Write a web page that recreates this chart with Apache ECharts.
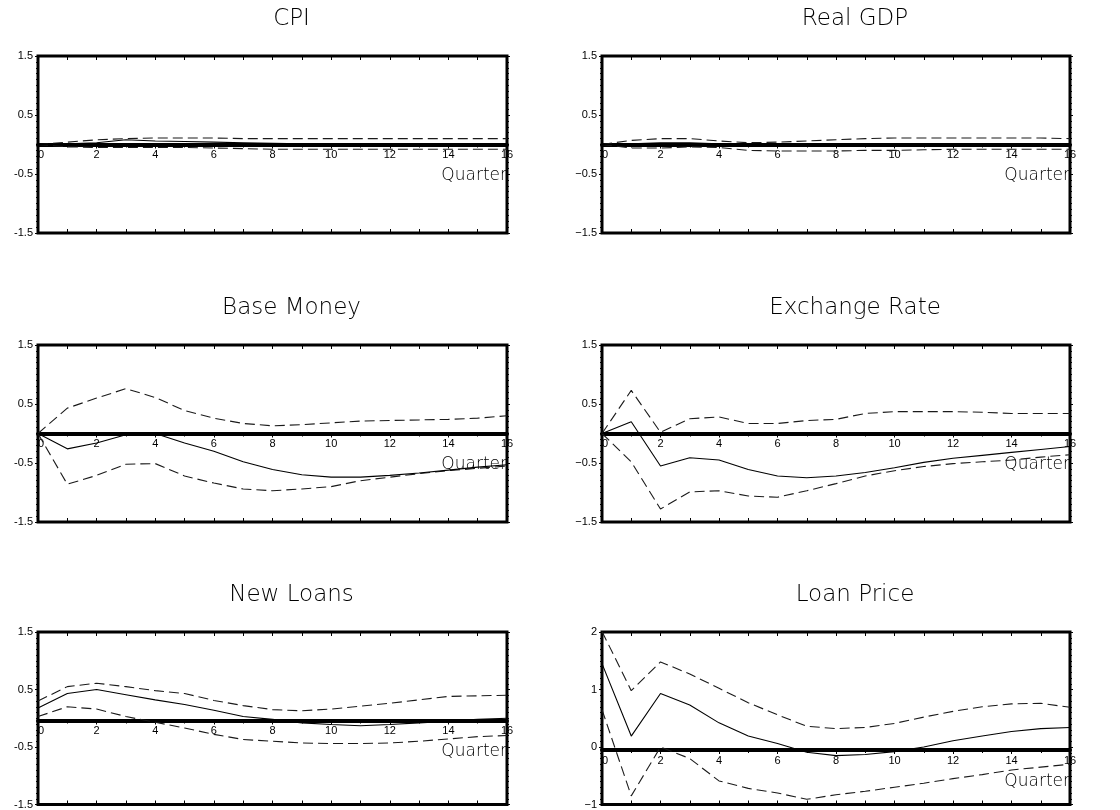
<!DOCTYPE html>
<html>
<head>
<meta charset="utf-8">
<script src="https://cdn.jsdelivr.net/npm/echarts@6/dist/echarts.min.js"></script>
<style>
  html, body { margin: 0; padding: 0; background: #fff; }
  #chart { width: 1120px; height: 810px; }
</style>
</head>
<body>
<div id="chart"></div>
<script>
// Impulse responses over 16 quarters: point estimate with upper / lower bands
const quarters = [0, 1, 2, 3, 4, 5, 6, 7, 8, 9, 10, 11, 12, 13, 14, 15, 16];

const cpiResp  = [0, 0.01, 0.03, 0.08, 0.06, 0.05, 0.04, 0.03, 0.02, 0.01, 0.01, 0.0, 0.0, 0.0, 0.0, 0.0, 0.0];
const cpiUpper = [0, 0.04, 0.08, 0.10, 0.11, 0.11, 0.11, 0.10, 0.10, 0.10, 0.10, 0.10, 0.10, 0.10, 0.10, 0.10, 0.10];
const cpiLower = [0, -0.04, -0.05, -0.05, -0.05, -0.05, -0.06, -0.07, -0.08, -0.08, -0.08, -0.08, -0.08, -0.08, -0.08, -0.08, -0.08];

const gdpResp  = [0, 0.01, 0.03, 0.03, 0.01, -0.02, -0.03, -0.03, -0.02, -0.01, -0.01, 0.0, 0.0, 0.0, 0.0, 0.0, 0.0];
const gdpUpper = [0, 0.07, 0.10, 0.10, 0.06, 0.03, 0.04, 0.06, 0.08, 0.10, 0.11, 0.11, 0.11, 0.11, 0.11, 0.11, 0.10];
const gdpLower = [0, -0.06, -0.06, -0.04, -0.05, -0.10, -0.11, -0.11, -0.11, -0.10, -0.10, -0.09, -0.08, -0.08, -0.08, -0.08, -0.08];

const baseResp  = [0, -0.26, -0.16, -0.02, 0.0, -0.16, -0.30, -0.48, -0.61, -0.70, -0.74, -0.74, -0.71, -0.67, -0.62, -0.57, -0.53];
const baseUpper = [0, 0.43, 0.60, 0.76, 0.61, 0.39, 0.26, 0.17, 0.13, 0.15, 0.18, 0.21, 0.22, 0.23, 0.24, 0.26, 0.30];
const baseLower = [0, -0.86, -0.71, -0.52, -0.51, -0.72, -0.84, -0.94, -0.97, -0.94, -0.90, -0.80, -0.74, -0.68, -0.63, -0.59, -0.55];

const fxResp  = [0, 0.20, -0.55, -0.41, -0.45, -0.61, -0.72, -0.75, -0.72, -0.66, -0.58, -0.49, -0.42, -0.37, -0.32, -0.27, -0.22];
const fxUpper = [0, 0.73, 0.02, 0.25, 0.28, 0.17, 0.17, 0.22, 0.24, 0.34, 0.37, 0.37, 0.37, 0.36, 0.34, 0.34, 0.34];
const fxLower = [0, -0.48, -1.28, -0.99, -0.97, -1.06, -1.08, -0.97, -0.85, -0.72, -0.63, -0.56, -0.51, -0.48, -0.45, -0.40, -0.36];

const loansResp  = [0.18, 0.43, 0.50, 0.41, 0.32, 0.24, 0.14, 0.03, -0.02, -0.08, -0.11, -0.13, -0.11, -0.08, -0.05, -0.02, 0.0];
const loansUpper = [0.30, 0.55, 0.61, 0.55, 0.48, 0.43, 0.31, 0.22, 0.15, 0.13, 0.16, 0.21, 0.26, 0.32, 0.38, 0.39, 0.40];
const loansLower = [0.03, 0.20, 0.16, 0.03, -0.07, -0.17, -0.28, -0.37, -0.40, -0.43, -0.44, -0.44, -0.43, -0.40, -0.36, -0.32, -0.30];

const priceResp  = [1.45, 0.19, 0.93, 0.73, 0.42, 0.19, 0.06, -0.09, -0.15, -0.13, -0.08, 0.0, 0.11, 0.19, 0.27, 0.32, 0.34];
const priceUpper = [2.01, 0.98, 1.48, 1.27, 1.02, 0.77, 0.56, 0.36, 0.32, 0.34, 0.41, 0.52, 0.62, 0.70, 0.75, 0.76, 0.69];
const priceLower = [0.65, -0.85, 0.0, -0.20, -0.59, -0.72, -0.80, -0.91, -0.83, -0.77, -0.70, -0.63, -0.55, -0.48, -0.40, -0.35, -0.30];

const panelTitles = ['CPI', 'Real GDP', 'Base Money', 'Exchange Rate', 'New Loans', 'Loan Price'];
const yRangeStd = [-1.5, 1.5];
const yRangePrice = [-1, 2];
const xAxisName = 'Quarter';

const panels = [
  { title: panelTitles[0], resp: cpiResp,   upper: cpiUpper,   lower: cpiLower,   yr: yRangeStd,   col: 0, row: 0 },
  { title: panelTitles[1], resp: gdpResp,   upper: gdpUpper,   lower: gdpLower,   yr: yRangeStd,   col: 1, row: 0 },
  { title: panelTitles[2], resp: baseResp,  upper: baseUpper,  lower: baseLower,  yr: yRangeStd,   col: 0, row: 1 },
  { title: panelTitles[3], resp: fxResp,    upper: fxUpper,    lower: fxLower,    yr: yRangeStd,   col: 1, row: 1 },
  { title: panelTitles[4], resp: loansResp, upper: loansUpper, lower: loansLower, yr: yRangeStd,   col: 0, row: 2 },
  { title: panelTitles[5], resp: priceResp, upper: priceUpper, lower: priceLower, yr: yRangePrice, col: 1, row: 2 }
];

// panel geometry
const colLeft = [38, 602];
const colWidth = [469, 468];
const rowTop = [56, 345, 632];
const boxHeight = 177;
const titleTop = [8, 297, 584];

const labelFont = 'Liberation Sans, Arial, sans-serif';
const grids = [], xAxes = [], yAxes = [], series = [], titles = [];

panels.forEach((p, g) => {
  const minus = p.col === 0 ? '-' : '\u2212';
  const fmt = v => (v < 0 ? minus : '') + String(Math.abs(v));
  const left = colLeft[p.col], width = colWidth[p.col], top = rowTop[p.row];

  // framed plotting box
  const mainGrid = grids.length;
  grids.push({
    left: left, top: top, width: width, height: boxHeight,
    show: true, borderWidth: 3, borderColor: '#000', backgroundColor: 'transparent'
  });
  // band from the top of the box down to y = 0; its bottom axis is the zero line
  const zeroGrid = grids.length;
  grids.push({
    left: left, top: top, width: width,
    height: boxHeight * p.yr[1] / (p.yr[1] - p.yr[0]),
    show: false
  });

  titles.push({
    text: p.title,
    left: left + width / 2 + 19,
    top: titleTop[p.row],
    textAlign: 'center',
    padding: 0,
    textStyle: { fontFamily: 'DejaVu Sans', fontSize: 23, fontWeight: 300, color: '#000' }
  });

  // tick marks along the top and bottom frame
  const dataX = xAxes.length;
  ['top', 'bottom'].forEach(pos => {
    xAxes.push({
      gridIndex: mainGrid, type: 'value', min: 0, max: 16, interval: 1, position: pos,
      axisLine: { show: false, onZero: false },
      axisTick: { show: true, inside: true, length: 4, lineStyle: { color: '#000', width: 1 } },
      axisLabel: { show: false }, splitLine: { show: false }
    });
  });
  // zero line with quarter labels
  xAxes.push({
    gridIndex: zeroGrid, type: 'value', min: 0, max: 16, interval: 2, position: 'bottom',
    axisLine: { show: true, onZero: false, lineStyle: { color: '#000', width: 4 } },
    axisTick: { show: true, inside: false, length: 4, lineStyle: { color: '#000', width: 1 } },
    minorTick: { show: true, splitNumber: 2, length: 3, lineStyle: { color: '#000', width: 1 } },
    axisLabel: { show: true, margin: 5, fontSize: 11, color: '#000', fontFamily: labelFont, alignMinLabel: 'left' },
    splitLine: { show: false },
    name: xAxisName, nameLocation: 'end', nameGap: 0,
    nameTextStyle: { fontFamily: 'DejaVu Sans', fontSize: 17, fontWeight: 300, color: '#000',
                     align: 'right', verticalAlign: 'top', padding: [23, 0, 0, 0] }
  });

  const dataY = yAxes.length;
  ['left', 'right'].forEach(pos => {
    yAxes.push({
      gridIndex: mainGrid, type: 'value', min: p.yr[0], max: p.yr[1], interval: 1, position: pos,
      axisLine: { show: false, onZero: false },
      axisTick: { show: true, inside: false, length: 3, lineStyle: { color: '#000', width: 1 } },
      minorTick: { show: true, splitNumber: 10, length: 2, lineStyle: { color: '#000', width: 1 } },
      axisLabel: { show: pos === 'left', margin: 5, fontSize: 11, color: '#000', fontFamily: labelFont, formatter: fmt },
      splitLine: { show: false }
    });
  });
  yAxes.push({ gridIndex: zeroGrid, type: 'value', min: 0, max: 1, show: false });

  const mk = (vals, dashed) => ({
    type: 'line', xAxisIndex: dataX, yAxisIndex: dataY,
    data: quarters.map((q, i) => [q, vals[i]]),
    showSymbol: false, silent: true, clip: true,
    lineStyle: { color: dashed ? '#1a1a1a' : '#000', width: 1.1, type: dashed ? [10, 5] : 'solid' },
    z: 3
  });
  series.push(mk(p.upper, true), mk(p.lower, true), mk(p.resp, false));
});

const chart = echarts.init(document.getElementById('chart'), null, { renderer: 'canvas' });
chart.setOption({
  animation: false,
  backgroundColor: '#fff',
  title: titles,
  grid: grids,
  xAxis: xAxes,
  yAxis: yAxes,
  series: series
});
</script>
</body>
</html>
